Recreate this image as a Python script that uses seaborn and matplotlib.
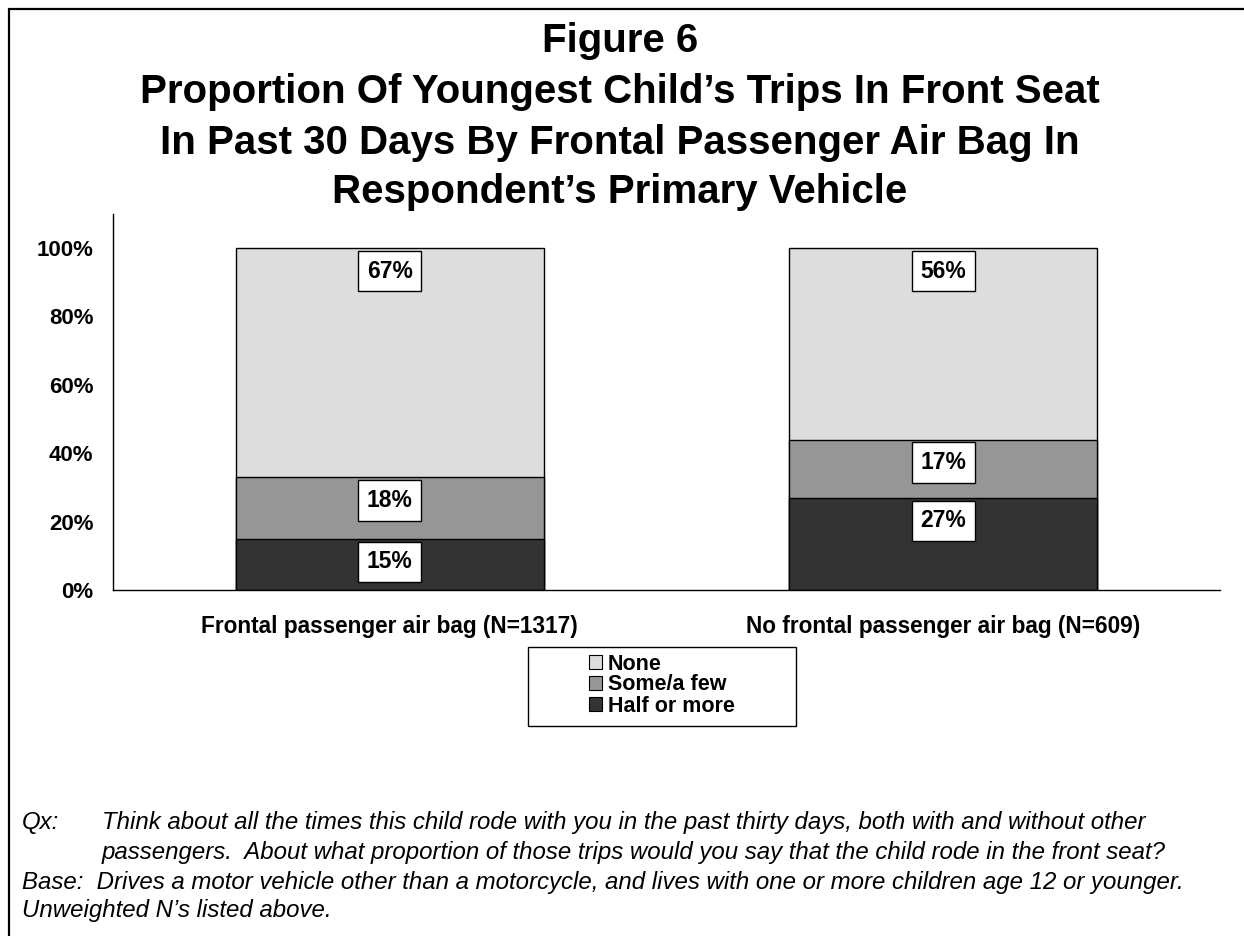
import matplotlib
matplotlib.use("Agg")
import matplotlib.pyplot as plt
from matplotlib.lines import Line2D
from matplotlib.patches import Rectangle, Patch
import numpy as np
import pandas as pd
import seaborn as sns

# ---- data -------------------------------------------------------------
groups = ["Frontal passenger air bag (N=1317)", "No frontal passenger air bag (N=609)"]
half_or_more = [15, 27]
some_few = [18, 17]
none = [67, 56]
series_names = ["None", "Some/a few", "Half or more"]
y_ticks = [0, 20, 40, 60, 80, 100]
y_tick_labels = ["0%", "20%", "40%", "60%", "80%", "100%"]

title_lines = [
    "Figure 6",
    "Proportion Of Youngest Child\u2019s Trips In Front Seat",
    "In Past 30 Days By Frontal Passenger Air Bag In",
    "Respondent\u2019s Primary Vehicle",
]
note_qx_tag = "Qx:"
note_qx_lines = [
    "Think about all the times this child rode with you in the past thirty days, both with and without other",
    "passengers.  About what proportion of those trips would you say that the child rode in the front seat?",
]
note_base = "Base:  Drives a motor vehicle other than a motorcycle, and lives with one or more children age 12 or younger."
note_n = "Unweighted N\u2019s listed above."

# ---- styling ----------------------------------------------------------
sns.set_theme(style="white")
plt.rcParams["font.family"] = ["Liberation Sans", "DejaVu Sans"]
plt.rcParams["text.color"] = "black"
plt.rcParams["xtick.color"] = "black"
plt.rcParams["ytick.color"] = "black"
plt.rcParams["axes.labelcolor"] = "black"

colors = {"None": "#DDDDDD", "Some/a few": "#969696", "Half or more": "#333333"}

W, H = 1244, 936
fig = plt.figure(figsize=(W / 100, H / 100), dpi=100)
fig.patch.set_facecolor("white")

ax = fig.add_axes([113 / W, 1 - 590 / H, (1220 - 113) / W, (590 - 213.8) / H])
ax.set_facecolor("white")

# stacked layers: cumulative tops, drawn from the tallest down
half = np.array(half_or_more, dtype=float)
some = np.array(some_few, dtype=float)
nonev = np.array(none, dtype=float)
layers = [
    ("None", half + some + nonev, nonev),
    ("Some/a few", half + some, some),
    ("Half or more", half, half),
]

bar_w = 0.556
for name, tops, _ in layers:
    df = pd.DataFrame({"group": groups, "top": tops})
    sns.barplot(data=df, x="group", y="top", color=colors[name], width=bar_w,
                edgecolor="black", linewidth=1.0, saturation=1, ax=ax,
                order=groups, errorbar=None)

# value labels, placed just inside the top of each segment
for name, tops, vals in layers:
    for i, (t, v) in enumerate(zip(tops, vals)):
        ax.annotate(f"{int(round(v))}%", xy=(i, t), xytext=(0, -8.4),
                    textcoords="offset points", ha="center", va="top",
                    fontsize=16.5, fontweight="bold", color="black", zorder=5,
                    bbox=dict(boxstyle="square,pad=0.38", fc="white", ec="black", lw=1.0))

ax.set_xlim(-0.5, 1.5)
ax.set_ylim(0, 110)
ax.set_xlabel("")
ax.set_ylabel("")

ax.set_yticks(y_ticks)
ax.set_yticklabels(y_tick_labels, fontsize=16, fontweight="bold", color="black")
ax.tick_params(axis="y", direction="out", length=5, width=1, color="black", pad=9)

ax.set_xticks([-0.5, 0.5, 1.5])
ax.set_xticklabels([])
ax.set_xticks([0, 1], minor=True)
ax.set_xticklabels(groups, minor=True, fontsize=16.3, fontweight="bold", color="black")
ax.tick_params(axis="x", which="major", direction="out", length=5, width=1, color="black")
ax.tick_params(axis="x", which="minor", length=0, pad=18)

for s in ["top", "right"]:
    ax.spines[s].set_visible(False)
for s in ["left", "bottom"]:
    ax.spines[s].set_color("black")
    ax.spines[s].set_linewidth(1.0)

# ---- title ------------------------------------------------------------
baselines = [52, 103, 154, 203]
for line, b in zip(title_lines, baselines):
    fig.text(620 / W, 1 - b / H, line, ha="center", va="baseline",
             fontsize=29, fontweight="bold", color="black")

# ---- legend -----------------------------------------------------------
handles = [Patch(facecolor=colors[n], edgecolor="black", linewidth=0.8) for n in series_names]
leg = fig.legend(handles, series_names, loc="center", bbox_to_anchor=(662 / W, 1 - 685 / H),
                 frameon=False, fontsize=15.5, handlelength=0.6, handleheight=0.6,
                 handletextpad=0.25, labelspacing=0.0, borderpad=0.2)
for t in leg.get_texts():
    t.set_fontweight("bold")
    t.set_color("black")
fig.add_artist(Rectangle((528 / W, 1 - 726 / H), (796 - 528) / W, (726 - 647) / H,
                         transform=fig.transFigure, fill=False, edgecolor="black", linewidth=1.0))

# ---- notes ------------------------------------------------------------
note_kw = dict(fontsize=17.3, fontstyle="italic", color="black", va="center", ha="left")
fig.text(22 / W, 1 - 822 / H, note_qx_tag, **note_kw)
fig.text(102 / W, 1 - 822 / H, note_qx_lines[0], **note_kw)
fig.text(102 / W, 1 - 852 / H, note_qx_lines[1], **note_kw)
fig.text(22 / W, 1 - 882 / H, note_base, **note_kw)
fig.text(22 / W, 1 - 911 / H, note_n, **note_kw)

# ---- outer frame ------------------------------------------------------
fx, fy = 9 / W, 1 - 9 / H
fig.add_artist(Line2D([fx, fx], [0, fy], transform=fig.transFigure, color="black", linewidth=1.6))
fig.add_artist(Line2D([fx, 1], [fy, fy], transform=fig.transFigure, color="black", linewidth=1.6))

fig.savefig("out.png", dpi=100, facecolor="white")
